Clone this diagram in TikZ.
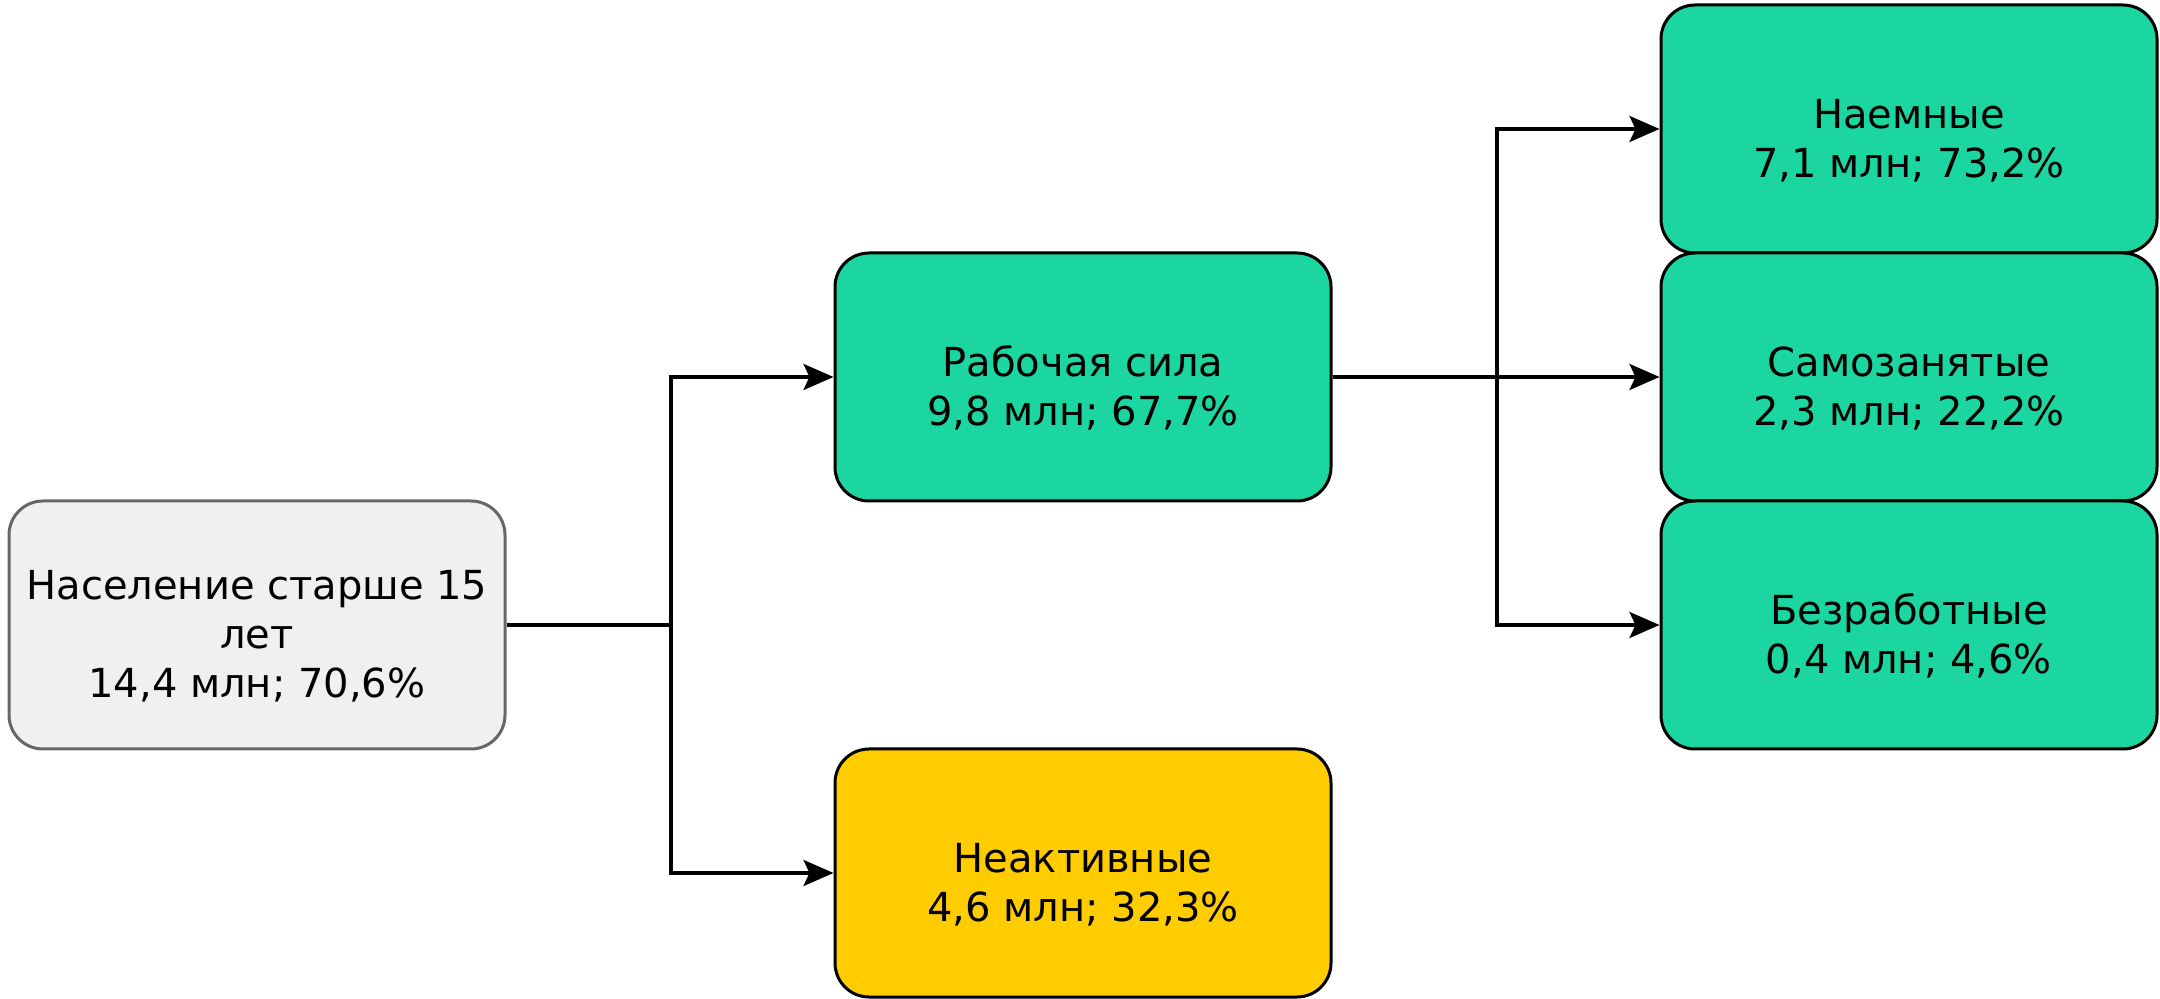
\documentclass[tikz,border=0pt]{standalone}
\usepackage{fontspec}
\setmainfont{DejaVu Sans}
\usetikzlibrary{arrows.meta}
\definecolor{boxgray}{HTML}{F0F0F0}
\definecolor{boxgreen}{HTML}{1BD6A0}
\definecolor{boxyellow}{HTML}{FFCC00}
\newcommand{\topgap}{\rule{0pt}{26pt}}
\tikzset{
  box/.style={shape=rectangle,rounded corners=17pt,draw,line width=1.5pt,
    minimum width=248pt,minimum height=124pt,align=center,
    font=\fontsize{20}{24.5}\selectfont},
  graybox/.style={box,fill=boxgray,draw=black!60},
  greenbox/.style={box,fill=boxgreen},
  yellowbox/.style={box,fill=boxyellow},
  link/.style={line width=1.6pt}
}
\begin{document}
\begin{tikzpicture}[x=0.5pt,y=-0.5pt,>={Stealth[length=15pt,width=13pt,inset=3pt]}]
\useasboundingbox (0,0) rectangle (2160,999);
\node  (pop) at (257, 625) [graybox] {\topgap Население старше 15\\лет\\14,4 млн; 70,6\%};
\node (labor) at (1083, 377) [greenbox] {\topgap Рабочая сила\\9,8 млн; 67,7\%};
\node (inact) at (1083, 873) [yellowbox] {\topgap Неактивные\\4,6 млн; 32,3\%};
\node (hired) at (1909, 129) [greenbox] {\topgap Наемные\\7,1 млн; 73,2\%};
\node  (self) at (1909, 377) [greenbox] {\topgap Самозанятые\\2,3 млн; 22,2\%};
\node (unemp) at (1909, 625) [greenbox] {\topgap Безработные\\0,4 млн; 4,6\%};
\coordinate (split1) at (671, 625);
\coordinate (split2) at (1497, 377);
\draw [link]  (pop) -- (split1);
\draw [link,->] (split1) |- (labor);
\draw [link,->] (split1) |- (inact);
\draw [link] (labor) -- (split2);
\draw [link,->] (split2) |- (hired);
\draw [link,->] (split2) -- (self);
\draw [link,->] (split2) |- (unemp);
\end{tikzpicture}
\end{document}
